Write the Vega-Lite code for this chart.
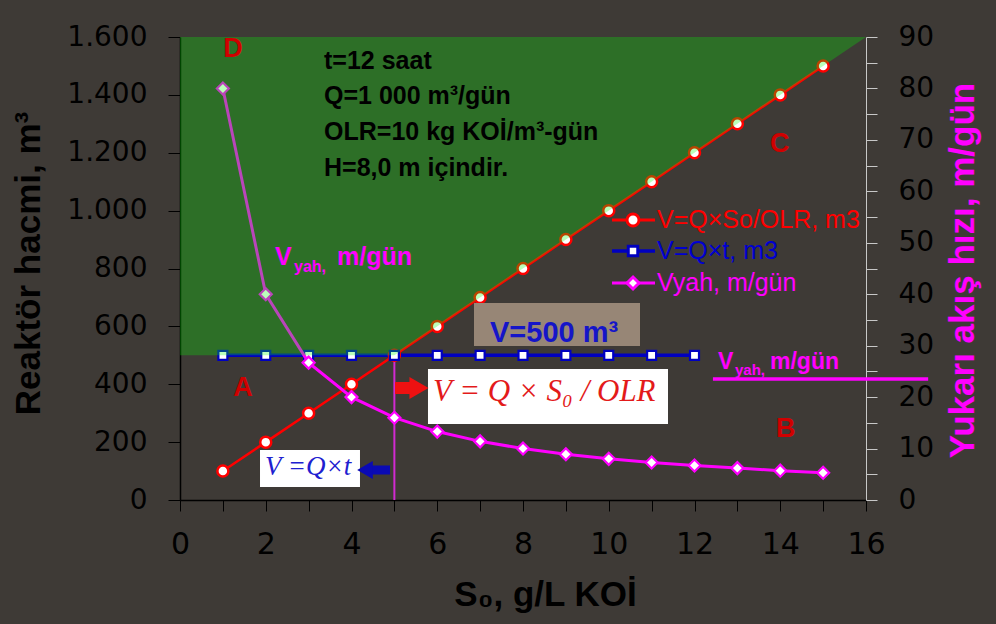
{
  "$schema": "https://vega.github.io/schema/vega-lite/v6.json",
  "width": 686,
  "height": 463,
  "autosize": {"type": "none"},
  "padding": {"left": 180, "top": 37, "right": 130, "bottom": 124},
  "background": "#3e3a36",
  "config": {
    "view": {"stroke": null},
    "axis": {"grid": false, "labelFont": "DejaVu Sans", "labelFontSize": 28, "labelColor": "#000000", "titleFont": "Liberation Sans", "titleFontSize": 35, "titleFontWeight": "bold", "titleColor": "#000000", "tickColor": "#000000", "domainColor": "#000000", "labelOverlap": false, "labelFlush": false},
    "text": {"font": "Liberation Sans"}
  },
  "datasets": {
    "vol": [
      {"s": 1, "series": "V=Q×So/OLR, m3", "v": 100},
      {"s": 2, "series": "V=Q×So/OLR, m3", "v": 200},
      {"s": 3, "series": "V=Q×So/OLR, m3", "v": 300},
      {"s": 4, "series": "V=Q×So/OLR, m3", "v": 400},
      {"s": 5, "series": "V=Q×So/OLR, m3", "v": 500},
      {"s": 6, "series": "V=Q×So/OLR, m3", "v": 600},
      {"s": 7, "series": "V=Q×So/OLR, m3", "v": 700},
      {"s": 8, "series": "V=Q×So/OLR, m3", "v": 800},
      {"s": 9, "series": "V=Q×So/OLR, m3", "v": 900},
      {"s": 10, "series": "V=Q×So/OLR, m3", "v": 1000},
      {"s": 11, "series": "V=Q×So/OLR, m3", "v": 1100},
      {"s": 12, "series": "V=Q×So/OLR, m3", "v": 1200},
      {"s": 13, "series": "V=Q×So/OLR, m3", "v": 1300},
      {"s": 14, "series": "V=Q×So/OLR, m3", "v": 1400},
      {"s": 15, "series": "V=Q×So/OLR, m3", "v": 1500},
      {"s": 1, "series": "V=Q×t, m3", "v": 500},
      {"s": 2, "series": "V=Q×t, m3", "v": 500},
      {"s": 3, "series": "V=Q×t, m3", "v": 500},
      {"s": 4, "series": "V=Q×t, m3", "v": 500},
      {"s": 5, "series": "V=Q×t, m3", "v": 500},
      {"s": 6, "series": "V=Q×t, m3", "v": 500},
      {"s": 7, "series": "V=Q×t, m3", "v": 500},
      {"s": 8, "series": "V=Q×t, m3", "v": 500},
      {"s": 9, "series": "V=Q×t, m3", "v": 500},
      {"s": 10, "series": "V=Q×t, m3", "v": 500},
      {"s": 11, "series": "V=Q×t, m3", "v": 500},
      {"s": 12, "series": "V=Q×t, m3", "v": 500}
    ],
    "vyah": [
      {"s": 1, "series": "Vyah, m/gün", "v": 80},
      {"s": 2, "series": "Vyah, m/gün", "v": 40},
      {"s": 3, "series": "Vyah, m/gün", "v": 26.7},
      {"s": 4, "series": "Vyah, m/gün", "v": 20},
      {"s": 5, "series": "Vyah, m/gün", "v": 16},
      {"s": 6, "series": "Vyah, m/gün", "v": 13.3},
      {"s": 7, "series": "Vyah, m/gün", "v": 11.4},
      {"s": 8, "series": "Vyah, m/gün", "v": 10},
      {"s": 9, "series": "Vyah, m/gün", "v": 8.9},
      {"s": 10, "series": "Vyah, m/gün", "v": 8},
      {"s": 11, "series": "Vyah, m/gün", "v": 7.3},
      {"s": 12, "series": "Vyah, m/gün", "v": 6.7},
      {"s": 13, "series": "Vyah, m/gün", "v": 6.2},
      {"s": 14, "series": "Vyah, m/gün", "v": 5.7},
      {"s": 15, "series": "Vyah, m/gün", "v": 5.3}
    ]
  },
  "resolve": {"scale": {"y": "independent"}, "axis": {"x": "independent", "y": "independent"}},
  "layer": [
    {
      "encoding": {
        "x": {"field": "s", "type": "quantitative", "scale": {"domain": [0, 16], "nice": false, "zero": false},
          "axis": {"values": [0,1,2,3,4,5,6,7,8,9,10,11,12,13,14,15,16], "labelExpr": "datum.value % 2 === 0 ? datum.label : ''", "labelFontSize": 30, "tickSize": 11, "labelPadding": 18, "domainWidth": 1.5, "title": "S₀, g/L KOİ", "titleX": 365, "titleY": 105, "titleBaseline": "alphabetic", "titleAlign": "center"}},
        "y": {"field": "v", "type": "quantitative", "scale": {"domain": [0, 1600], "nice": false},
          "axis": {"orient": "left", "values": [0,200,400,600,800,1000,1200,1400,1600], "labelExpr": "replace(format(datum.value, ','), ',', '.')", "tickSize": 12, "labelPadding": 21, "domainWidth": 1.5, "title": "Reaktör hacmi, m³", "titleAngle": -90, "titleX": -141, "titleY": 226, "titleBaseline": "alphabetic", "titleAlign": "center"}}
      },
      "layer": [
        {
          "data": {"values": [{"s": 5, "v": 0, "v2": 500}]},
          "mark": {"type": "rule", "color": "#d22ad2", "strokeWidth": 2},
          "encoding": {"y2": {"field": "v2"}}
        },
        {
          "data": {"name": "vol"},
          "transform": [{"filter": "datum.series === 'V=Q×So/OLR, m3'"}],
          "mark": {"type": "line", "color": "#ff0000", "strokeWidth": 2.5}
        },
        {
          "data": {"name": "vol"},
          "transform": [{"filter": "datum.series === 'V=Q×t, m3'"}],
          "mark": {"type": "line", "color": "#0000c0", "strokeWidth": 3.5}
        },
        {
          "data": {"name": "vol"},
          "transform": [{"filter": "datum.series === 'V=Q×So/OLR, m3'"}],
          "mark": {"type": "point", "shape": "circle", "filled": true, "fill": "#ffffff", "stroke": "#ff0000", "strokeWidth": 2.5, "size": 121, "opacity": 1}
        },
        {
          "data": {"name": "vol"},
          "transform": [{"filter": "datum.series === 'V=Q×t, m3'"}],
          "mark": {"type": "point", "shape": "square", "filled": true, "fill": "#ffffff", "stroke": "#0000c0", "strokeWidth": 2.2, "size": 81, "opacity": 1}
        }
      ]
    },
    {
      "encoding": {
        "x": {"field": "s", "type": "quantitative", "scale": {"domain": [0, 16], "nice": false, "zero": false}, "axis": null},
        "y": {"field": "v", "type": "quantitative", "scale": {"domain": [0, 90], "nice": false},
          "axis": {"orient": "right", "values": [0,5,10,15,20,25,30,35,40,45,50,55,60,65,70,75,80,85,90], "labelExpr": "datum.value % 10 === 0 ? datum.label : ''", "tickSize": 11, "labelPadding": 21, "domainColor": "#c8c8c8", "tickColor": "#c8c8c8", "title": "Yukarı akış hızı, m/gün", "titleColor": "#ff00ff", "titleAngle": -90, "titleX": 107.5, "titleY": 233, "titleBaseline": "alphabetic", "titleAlign": "center"}}
      },
      "layer": [
        {
          "data": {"name": "vyah"},
          "mark": {"type": "line", "color": "#ff00ff", "strokeWidth": 3}
        },
        {
          "data": {"name": "vyah"},
          "mark": {"type": "point", "shape": "diamond", "filled": true, "fill": "#ffffff", "stroke": "#ff00ff", "strokeWidth": 2.2, "size": 144, "opacity": 1}
        }
      ]
    },
    {
      "encoding": {
        "x": {"field": "s", "type": "quantitative", "scale": {"domain": [0, 16], "nice": false, "zero": false}, "axis": null},
        "y": {"field": "v", "type": "quantitative", "scale": {"domain": [0, 1600], "nice": false}, "axis": null}
      },
      "layer": [
        {
          "data": {"values": [{"s": 0, "v": 500, "v2": 1600}, {"s": 5, "v": 500, "v2": 1600}, {"s": 16, "v": 1600, "v2": 1600}]},
          "mark": {"type": "area", "color": "#00ff00", "opacity": 0.27},
          "encoding": {"y2": {"field": "v2"}}
        },
        {
          "data": {"values": [{"s": 6.857, "s2": 10.729, "v": 532, "v2": 681}]},
          "mark": {"type": "rect", "color": "#978676"},
          "encoding": {"x2": {"field": "s2"}, "y2": {"field": "v2"}}
        },
        {
          "data": {"values": [{"s": 5.784, "s2": 11.382, "v": 262.6, "v2": 452.7}, {"s": 1.866, "s2": 4.198, "v": 44.9, "v2": 172.8}]},
          "mark": {"type": "rect", "color": "#ffffff"},
          "encoding": {"x2": {"field": "s2"}, "y2": {"field": "v2"}}
        },
        {
          "data": {"values": [{"s": 5.015, "s2": 5.42, "v": 387}]},
          "mark": {"type": "rule", "color": "#ee1111", "strokeWidth": 12, "strokeCap": "butt"},
          "encoding": {"x2": {"field": "s2"}}
        },
        {
          "data": {"values": [{"s": 5.574, "v": 387}]},
          "mark": {"type": "point", "shape": "triangle-right", "filled": true, "color": "#ee1111", "size": 484, "opacity": 1}
        },
        {
          "data": {"values": [{"s": 4.385, "s2": 4.898, "v": 103.7}]},
          "mark": {"type": "rule", "color": "#0a0ab4", "strokeWidth": 9, "strokeCap": "butt"},
          "encoding": {"x2": {"field": "s2"}}
        },
        {
          "data": {"values": [{"s": 4.315, "v": 103.7}]},
          "mark": {"type": "point", "shape": "triangle-left", "filled": true, "color": "#0a0ab4", "size": 324, "opacity": 1}
        },
        {
          "data": {"values": [{"s": 12.43, "s2": 17.45, "v": 418}]},
          "mark": {"type": "rule", "color": "#ff00ff", "strokeWidth": 3.5},
          "encoding": {"x2": {"field": "s2"}}
        },
        {
          "data": {"values": [{"series": "V=Q×So/OLR, m3", "s": 10.076, "s2": 11.079, "sm": 10.566, "st": 11.125, "v": 967.6}]},
          "layer": [
            {"mark": {"type": "rule", "color": "#ff0000", "strokeWidth": 3}, "encoding": {"x2": {"field": "s2"}}},
            {"mark": {"type": "point", "shape": "circle", "filled": true, "fill": "#ffffff", "stroke": "#ff0000", "strokeWidth": 3, "size": 144, "opacity": 1}, "encoding": {"x": {"field": "sm", "type": "quantitative", "scale": {"domain": [0, 16], "nice": false, "zero": false}, "axis": null}}},
            {"mark": {"type": "text", "align": "left", "baseline": "middle", "font": "Liberation Sans", "fontSize": 25, "color": "#ff0000"}, "encoding": {"x": {"field": "st", "type": "quantitative", "scale": {"domain": [0, 16], "nice": false, "zero": false}, "axis": null}, "text": {"field": "series"}}}
          ]
        },
        {
          "data": {"values": [{"series": "V=Q×t, m3", "s": 10.076, "s2": 11.079, "sm": 10.566, "st": 11.125, "v": 860.5}]},
          "layer": [
            {"mark": {"type": "rule", "color": "#0000c0", "strokeWidth": 3.5}, "encoding": {"x2": {"field": "s2"}}},
            {"mark": {"type": "point", "shape": "square", "filled": true, "fill": "#ffffff", "stroke": "#0000c0", "strokeWidth": 3, "size": 90, "opacity": 1}, "encoding": {"x": {"field": "sm", "type": "quantitative", "scale": {"domain": [0, 16], "nice": false, "zero": false}, "axis": null}}},
            {"mark": {"type": "text", "align": "left", "baseline": "middle", "font": "Liberation Sans", "fontSize": 25, "color": "#0000d0"}, "encoding": {"x": {"field": "st", "type": "quantitative", "scale": {"domain": [0, 16], "nice": false, "zero": false}, "axis": null}, "text": {"field": "series"}}}
          ]
        },
        {
          "data": {"values": [{"series": "Vyah, m/gün", "s": 10.076, "s2": 11.079, "sm": 10.566, "st": 11.125, "v": 749.9}]},
          "layer": [
            {"mark": {"type": "rule", "color": "#ff00ff", "strokeWidth": 3}, "encoding": {"x2": {"field": "s2"}}},
            {"mark": {"type": "point", "shape": "diamond", "filled": true, "fill": "#ffffff", "stroke": "#ff00ff", "strokeWidth": 3, "size": 144, "opacity": 1}, "encoding": {"x": {"field": "sm", "type": "quantitative", "scale": {"domain": [0, 16], "nice": false, "zero": false}, "axis": null}}},
            {"mark": {"type": "text", "align": "left", "baseline": "middle", "font": "Liberation Sans", "fontSize": 25, "color": "#ff00ff"}, "encoding": {"x": {"field": "st", "type": "quantitative", "scale": {"domain": [0, 16], "nice": false, "zero": false}, "axis": null}, "text": {"field": "series"}}}
          ]
        },
        {
          "data": {"values": [
            {"s": 3.359, "v": 1490, "t": "t=12 saat"},
            {"s": 3.359, "v": 1369, "t": "Q=1 000 m³/gün"},
            {"s": 3.359, "v": 1244, "t": "OLR=10 kg KOİ/m³-gün"},
            {"s": 3.359, "v": 1120, "t": "H=8,0 m içindir."}
          ]},
          "mark": {"type": "text", "align": "left", "baseline": "alphabetic", "font": "Liberation Sans", "fontWeight": "bold", "fontSize": 25, "color": "#000000"},
          "encoding": {"text": {"field": "t"}}
        },
        {
          "data": {"values": [
            {"s": 1.236, "v": 1531, "t": "D"},
            {"s": 13.99, "v": 1203, "t": "C"},
            {"s": 1.469, "v": 359, "t": "A"},
            {"s": 14.13, "v": 218, "t": "B"}
          ]},
          "mark": {"type": "text", "align": "center", "baseline": "alphabetic", "font": "Liberation Sans", "fontWeight": "bold", "fontSize": 27, "color": "#d00000"},
          "encoding": {"text": {"field": "t"}}
        },
        {
          "data": {"values": [{"s": 7.23, "v": 546, "t": "V=500 m³"}]},
          "mark": {"type": "text", "align": "left", "baseline": "alphabetic", "font": "Liberation Sans", "fontWeight": "bold", "fontSize": 29, "color": "#1515c8"},
          "encoding": {"text": {"field": "t"}}
        },
        {
          "data": {"values": [{"s": 5.901, "v": 342, "t": "V = Q × S₀ / OLR"}]},
          "mark": {"type": "text", "align": "left", "baseline": "alphabetic", "font": "Liberation Serif", "fontStyle": "italic", "fontSize": 31, "color": "#e31a1a"},
          "encoding": {"text": {"field": "t"}}
        },
        {
          "data": {"values": [{"s": 1.983, "v": 86.4, "t": "V =Q×t"}]},
          "mark": {"type": "text", "align": "left", "baseline": "alphabetic", "font": "Liberation Serif", "fontStyle": "italic", "fontSize": 27, "color": "#2020d0"},
          "encoding": {"text": {"field": "t"}}
        },
        {
          "data": {"values": [{"s": 2.216, "v": 812, "t": "V"}, {"s": 3.662, "v": 812, "t": "m/gün"}]},
          "mark": {"type": "text", "align": "left", "baseline": "alphabetic", "font": "Liberation Sans", "fontWeight": "bold", "fontSize": 25, "color": "#ff00ff"},
          "encoding": {"text": {"field": "t"}}
        },
        {
          "data": {"values": [{"s": 2.66, "v": 788, "t": "yah,"}]},
          "mark": {"type": "text", "align": "left", "baseline": "alphabetic", "font": "Liberation Sans", "fontWeight": "bold", "fontSize": 16, "color": "#ff00ff"},
          "encoding": {"text": {"field": "t"}}
        },
        {
          "data": {"values": [{"s": 12.548, "v": 453, "t": "V"}, {"s": 13.761, "v": 453, "t": "m/gün"}]},
          "mark": {"type": "text", "align": "left", "baseline": "alphabetic", "font": "Liberation Sans", "fontWeight": "bold", "fontSize": 23, "color": "#ff00ff"},
          "encoding": {"text": {"field": "t"}}
        },
        {
          "data": {"values": [{"s": 12.945, "v": 432, "t": "yah,"}]},
          "mark": {"type": "text", "align": "left", "baseline": "alphabetic", "font": "Liberation Sans", "fontWeight": "bold", "fontSize": 15, "color": "#ff00ff"},
          "encoding": {"text": {"field": "t"}}
        }
      ]
    }
  ]
}
